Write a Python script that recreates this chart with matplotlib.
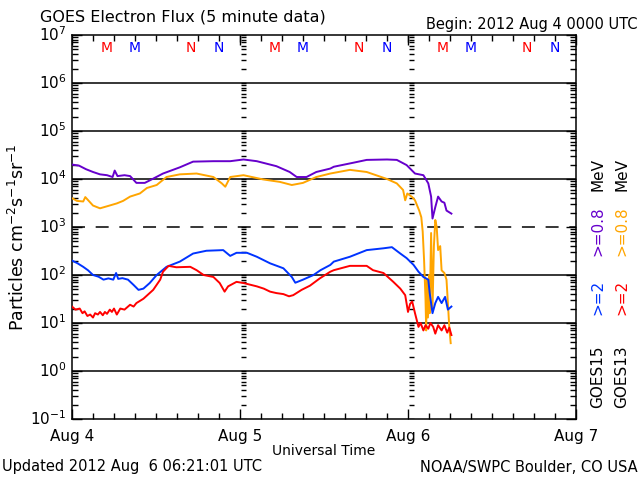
import matplotlib
matplotlib.use("Agg")
import matplotlib.pyplot as plt
import matplotlib.ticker as ticker
import matplotlib.transforms as mtransforms
import numpy as np

# hours since 2012 Aug 4 00 UT, flux in particles cm-2 s-1 sr-1
t_g15_lo = [0, 1, 2, 3, 4, 5, 5.8, 6.1, 6.5, 7.5, 8.3, 9.2, 10.4, 11.5, 13, 15.4,
            17.3, 20.2, 22.6, 24.5, 26.4, 29.2, 31.1, 32.1, 33.5, 34.9, 36.9,
            37.4, 40.3, 42.1, 45, 46.4, 47.8, 49, 50.2, 50.9, 51.3, 51.5, 51.9,
            52.3, 52.8, 53.2, 53.5, 54.2]
g15_lo = [2.0e4, 1.9e4, 1.6e4, 1.4e4, 1.25e4, 1.2e4, 1.1e4, 1.5e4, 1.15e4, 1.2e4,
          1.15e4, 8.3e3, 8.3e3, 1.0e4, 1.3e4, 1.75e4, 2.3e4, 2.35e4, 2.35e4, 2.55e4,
          2.35e4, 1.85e4, 1.4e4, 1.1e4, 1.1e4, 1.4e4, 1.65e4, 1.8e4, 2.2e4, 2.5e4,
          2.55e4, 2.5e4, 1.95e4, 1.3e4, 1.2e4, 8.1e3, 4.3e3, 1.5e3, 2.6e3, 4.3e3,
          3.4e3, 3.2e3, 2.2e3, 1.9e3]

t_g13_lo = [0, 0.7, 1.6, 1.9, 3, 4, 5, 6.4, 7.3, 8.3, 9.7, 10.7, 12.1, 13.5, 15.4,
            17.8, 20.2, 21.4, 21.9, 22.6, 24.5, 27.3, 29.7, 31.4, 33, 34.9, 36.9,
            39.7, 42.1, 45, 46.4, 47.3, 47.6, 47.9, 48.6, 49.0, 49.6, 49.9, 50.1,
            50.3, 50.5, 50.6, 50.7, 50.85, 51.0, 51.1, 51.3, 51.5, 51.7, 51.9, 52.1,
            52.3, 52.6, 52.8, 53.2, 53.5, 53.7, 53.9, 54.1]
g13_lo = [4.0e3, 3.5e3, 3.4e3, 4.2e3, 2.8e3, 2.45e3, 2.7e3, 3.1e3, 3.5e3, 4.3e3,
          5.0e3, 6.5e3, 7.5e3, 1.1e4, 1.25e4, 1.3e4, 1.1e4, 8.1e3, 6.9e3, 1.1e4,
          1.2e4, 9.8e3, 8.7e3, 7.5e3, 8.3e3, 1.1e4, 1.3e4, 1.55e4, 1.4e4, 1.0e4,
          8.1e3, 5.9e3, 3.6e3, 5.0e3, 4.2e3, 3.6e3, 2.2e3, 1.6e3, 800, 200, 32, 7,
          80, 13, 100, 16, 750, 19, 400, 1.4e3, 1.0e3, 330, 400, 125, 110, 80, 26,
          8, 3.8]

t_g15_hi = [0, 0.8, 1.6, 2.3, 3, 3.8, 4.5, 5.2, 5.9, 6.3, 6.6, 7.2, 8, 8.8, 9.5,
            10.2, 11.1, 12.1, 13.5, 15.4, 17.3, 19.2, 21.6, 22.6, 23.5, 25, 26.4,
            28.3, 30.2, 31.4, 31.9, 33, 34.5, 35.5, 36.9, 37.4, 39.7, 42.1, 44.5,
            45.7, 46.9, 47.8, 48.8, 49.5, 50.2, 50.9, 51.1, 51.5, 51.9, 52.3, 52.8,
            53.3, 53.7, 54.2]
g15_hi = [200, 175, 148, 125, 100, 92, 80, 85, 80, 110, 83, 86, 80, 62, 49, 52, 68,
          100, 148, 190, 280, 320, 330, 250, 290, 290, 240, 175, 138, 91, 69, 80,
          100, 126, 162, 190, 240, 330, 360, 380, 280, 225, 162, 117, 91, 80, 42,
          16, 26, 35, 26, 35, 19, 22]

t_g13_hi = [0, 0.5, 1.1, 1.5, 1.8, 2.2, 2.6, 3.0, 3.3, 3.7, 4, 4.4, 4.7, 5.0, 5.4,
            5.7, 6.0, 6.4, 6.9, 7.5, 8.3, 8.8, 9.2, 10.2, 11.6, 12.6, 13, 13.8,
            14.9, 16.9, 17.8, 18.8, 20.2, 21.1, 21.8, 22.3, 23.5, 24.5, 26.4, 27.4,
            28.3, 29.2, 30.2, 31.0, 31.6, 32.8, 34, 35.4, 36.9, 37.4, 39.7, 42.1,
            43, 44.5, 45.9, 46.9, 47.6, 48.0, 48.3, 48.6, 49.0, 49.5, 49.8, 50.2,
            50.5, 50.9, 51.2, 51.6, 51.9, 52.3, 52.8, 53.2, 53.6, 53.9, 54.2]
g13_hi = [22, 19, 20, 16, 17.5, 14, 15, 13, 16, 15, 17, 14.5, 17, 15.5, 19, 17, 20,
          15, 20, 19, 24, 22, 26, 32, 49, 80, 117, 155, 145, 148, 126, 100, 91, 68,
          45, 58, 72, 68, 58, 52, 45, 42, 40, 36, 38, 49, 60, 85, 117, 126, 155,
          155, 126, 110, 72, 52, 38, 17, 25, 28, 16, 8.3, 10, 7, 9, 7.6, 10, 8.3,
          6, 9, 7, 9, 6.3, 8, 5.6]

day_labels = ["Aug 4", "Aug 5", "Aug 6", "Aug 7"]
ytick_labels = ["$10^{-1}$", "$10^{0}$", "$10^{1}$", "$10^{2}$", "$10^{3}$",
                "$10^{4}$", "$10^{5}$", "$10^{6}$", "$10^{7}$"]
# local midnight / noon (hours UT) for GOES13 (red) and GOES15 (blue)
mn_hours = [5, 9, 17, 21]
mn_text = ["M", "M", "N", "N"]
mn_colors = ["red", "blue", "red", "blue"]

purple = "#6600cc"
orange = "#ffa500"
blue = "#0033ff"
red = "#ff0000"

W, H = 640, 480
fig = plt.figure(figsize=(6.4, 4.8), dpi=100)
ax = fig.add_axes([72 / W, 1 - 419 / H, 504 / W, 384 / H])
ax.set_yscale("log")
ax.set_xlim(0, 3)
ax.set_ylim(1e-1, 1e7)

# grid lines
for k in [0, 1, 2, 4, 5, 6]:
    ax.axhline(10.0 ** k, color="k", lw=1.1, zorder=1)
ax.axhline(1e3, color="k", lw=1.1, dashes=(8.5, 7), zorder=1)

# log tick clusters at the day boundaries
ylev = [m * 10.0 ** k for k in range(-1, 7) for m in range(1, 10)] + [1e7]
for d in [1, 2]:
    ax.vlines(d, 10 ** 6.86, 1e7, color="k", lw=1)
    ax.hlines(ylev, d + 1 / 168, d + 6 / 168, color="k", lw=1, zorder=1)

ax.plot(np.array(t_g15_lo) / 24, g15_lo, color=purple, lw=1.4, zorder=3)
ax.plot(np.array(t_g13_lo) / 24, g13_lo, color=orange, lw=1.4, zorder=3)
ax.plot(np.array(t_g15_hi) / 24, g15_hi, color=blue, lw=1.4, zorder=3)
ax.plot(np.array(t_g13_hi) / 24, g13_hi, color=red, lw=1.4, zorder=3)

for d in range(3):
    for h, s, c in zip(mn_hours, mn_text, mn_colors):
        ax.text(d + h / 24, 10 ** 6.73, s, color=c, fontsize=10,
                ha="center", va="center")

ax.set_yticks(10.0 ** np.arange(-1, 8))
ax.set_yticklabels(ytick_labels)
ax.yaxis.set_minor_locator(ticker.LogLocator(base=10, subs=np.arange(2, 10), numticks=20))
ax.yaxis.set_minor_formatter(ticker.NullFormatter())
ax.set_xticks([0, 1, 2, 3])
ax.set_xticklabels(day_labels)
ax.xaxis.set_minor_locator(ticker.MultipleLocator(0.125))
ax.tick_params(which="both", direction="in", top=True, right=True, width=1,
               labelsize=11, colors="k")
ax.tick_params(which="major", length=7, pad=4)
ax.tick_params(axis="x", which="major", pad=7)
ax.tick_params(which="minor", length=4)
for sp in ax.spines.values():
    sp.set_linewidth(1.1)

# lift the power-of-ten labels a little, as in the reference
up = mtransforms.ScaledTranslation(0, 1.5 / 72, fig.dpi_scale_trans)
for lbl in ax.get_yticklabels():
    lbl.set_transform(lbl.get_transform() + up)

ax.set_xlabel("Universal Time", fontsize=10, labelpad=0)
ax.set_ylabel("Particles cm$^{-2}$s$^{-1}$sr$^{-1}$", fontsize=12.5)
ax.yaxis.set_label_coords((28 - 72) / 504, 1 - (237 - 35) / 384)

fig.text(40 / W, 1 - 17 / H, "GOES Electron Flux (5 minute data)", fontsize=11.5,
         ha="left", va="center")
fig.text(638 / W, 1 - 25 / H, "Begin: 2012 Aug 4 0000 UTC", fontsize=10.5,
         ha="right", va="center")
fig.text(2 / W, 1 - 467 / H, "Updated 2012 Aug  6 06:21:01 UTC", fontsize=10.5,
         ha="left", va="center")
fig.text(638 / W, 1 - 467 / H, "NOAA/SWPC Boulder, CO USA", fontsize=10.5,
         ha="right", va="center")

# right hand labels (rotated)
side = [(598, ["GOES15", ">=2", ">=0.8", "MeV"], ["k", blue, purple, "k"]),
        (622, ["GOES13", ">=2", ">=0.8", "MeV"], ["k", red, orange, "k"])]
ys = [377, 297, 231, 175]
for xp, words, cols in side:
    for w, c, yp in zip(words, cols, ys):
        fig.text(xp / W, 1 - yp / H, w, color=c, fontsize=11, rotation=90,
                 ha="center", va="center")

fig.savefig("out.png", dpi=100)
